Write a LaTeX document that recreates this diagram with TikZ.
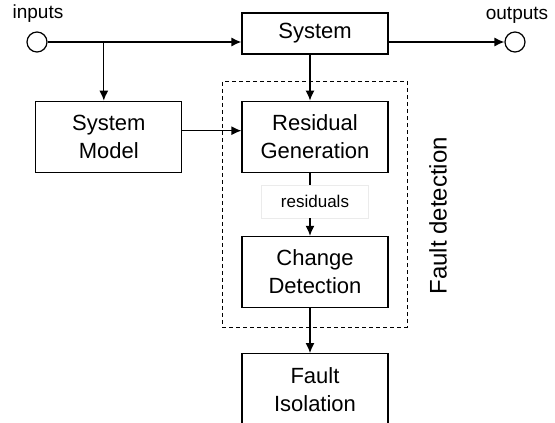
\documentclass[tikz,border=0pt]{standalone}
\usepackage{fontspec}
\setmainfont{Liberation Sans}
\usetikzlibrary{arrows.meta, calc, positioning, fit}
\tikzstyle{block} = [rectangle, line width=1.2pt, minimum width=146pt, minimum height=71pt, align=center, draw=black, font=\fontsize{22}{28}\selectfont]
\tikzstyle{port} = [circle, line width=1.2pt, draw=black, minimum size=20pt, inner sep=0pt]
\tikzstyle{tag} = [rectangle, draw=black!8, minimum width=107pt, minimum height=33pt, font=\fontsize{17}{20}\selectfont]
\tikzstyle{line} = [line width=1.2pt]
\tikzstyle{arrow} = [line width=1.2pt,-{Latex[length=10pt,width=9pt]}]
\begin{document}
\begin{tikzpicture}[x=1pt, y=-1pt]
		\useasboundingbox (0,0) rectangle (555,423);
		\node (System) [block, minimum height=41pt] at (315,33.5) {System};
		\node (ResGen) [block, below=46pt of System] {Residual\\Generation};
		\node (ChangeDet) [block, below=63pt of ResGen] {Change\\Detection};
		\node (FaultIso) [block, below=45pt of ChangeDet, minimum height=72pt] {Fault\\Isolation};
		\node (SysModel) [block, left=59pt of ResGen] {System\\Model};
		\node (residuals) [tag] at ($(ResGen.south)!0.5!(ChangeDet.north)+(0,-3)$) {residuals};
		\node (FD) [draw, line width=1pt, dash pattern=on 4pt off 3pt, fit=(ResGen)(ChangeDet), inner sep=19pt] {};
		\node (FDlabel) [rotate=90, font=\fontsize{24}{28}\selectfont] at ($(FD.east)+(30,11.5)$) {Fault detection};
		\node (inputs) [port] at (37,42) {};
		\node (outputs) [port] at (515,42) {};
		\node (inLabel) [font=\fontsize{19}{22}\selectfont] at (38,14) {inputs};
		\node (outLabel) [font=\fontsize{19}{22}\selectfont] at (517,15) {outputs};
		\coordinate (Branch) at ([xshift=-5pt]SysModel.north |- inputs);
		\draw [arrow] (inputs.east) -- (inputs -| System.west);
		\draw [arrow] (Branch) -- (Branch |- SysModel.north);
		\draw [arrow] (System.east |- outputs) -- (outputs.west);
		\draw [arrow] ([xshift=-5pt]System.south) -- ([xshift=-5pt]ResGen.north);
		\draw [arrow] ([yshift=6pt]SysModel.east) -- ([yshift=6pt]ResGen.west);
		\draw [line] ([xshift=-5pt]ResGen.south) -- ([xshift=-5pt]ResGen.south |- residuals.north);
		\draw [arrow] ([xshift=-5pt]ResGen.south |- residuals.south) -- ([xshift=-5pt]ChangeDet.north);
		\draw [arrow] ([xshift=-5pt]ChangeDet.south) -- ([xshift=-5pt]FaultIso.north);
\end{tikzpicture}
\end{document}
